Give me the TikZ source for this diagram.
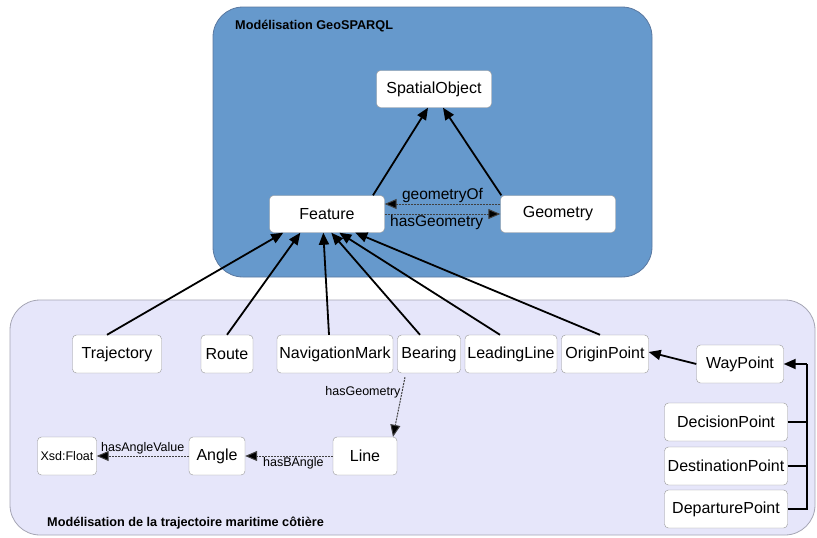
\documentclass[tikz,border=0pt]{standalone}
\usepackage{fontspec}
\setmainfont{Liberation Sans}
\usetikzlibrary{arrows.meta}
\definecolor{topblue}{RGB}{102,153,204}
\definecolor{topedge}{RGB}{90,120,160}
\definecolor{lowfill}{RGB}{230,230,250}
\definecolor{lowedge}{RGB}{165,165,180}
\definecolor{nodeedge}{RGB}{150,150,150}
\tikzset{
  cls/.style={draw=nodeedge, fill=white, rounded corners=4pt, inner sep=0pt,
    minimum height=38pt, font=\fontsize{16}{19}\selectfont},
  isa/.style={line width=1.8pt, -{Triangle[length=12pt,width=10pt]}},
  prop/.style={line width=1pt, draw=black!75, dash pattern=on 2pt off 1pt, -{Triangle[length=12pt,width=10pt,fill=black]}},
  biglab/.style={font=\fontsize{15.5}{18}\selectfont, inner sep=1pt},
  smalllab/.style={font=\fontsize{12.5}{15}\selectfont, inner sep=1pt},
  boxtitle/.style={font=\bfseries\fontsize{12.7}{15}\selectfont, anchor=west, inner sep=0pt}
}
\begin{document}
\begin{tikzpicture}[x=1pt,y=-1pt]
\useasboundingbox (0,0) rectangle (817,538);
% containers
\draw[fill=topblue, draw=topedge, line width=0.8pt, rounded corners=30pt] (213,7) rectangle (652,277);
\draw[fill=lowfill, draw=lowedge, line width=0.8pt, rounded corners=30pt] (10,300) rectangle (815,535);
\node[boxtitle] (t1) at (235,26) {Modélisation GeoSPARQL};
\node[boxtitle] (t2) at (47,523) {Modélisation de la trajectoire maritime côtière};
% top nodes
\node[cls, minimum width=115pt, minimum height=37pt] (so) at (434,89) {SpatialObject};
\node[cls, minimum width=115pt, minimum height=37pt] (feat) at (327,214) {Feature};
\node[cls, minimum width=115pt, minimum height=37pt] (geo) at (558,214) {Geometry};
% lower nodes
\node[cls, minimum width=89pt] (traj) at (117,354) {Trajectory};
\node[cls, minimum width=52pt] (route) at (227,354) {Route};
\node[cls, minimum width=116pt] (nav) at (335,354) {NavigationMark};
\node[cls, minimum width=63pt] (bear) at (429,354) {Bearing};
\node[cls, minimum width=92pt] (lead) at (511,354) {LeadingLine};
\node[cls, minimum width=87pt] (orig) at (605,354) {OriginPoint};
\node[cls, minimum width=87pt] (wp) at (740,364) {WayPoint};
\node[cls, minimum width=123pt] (dec) at (726,422) {DecisionPoint};
\node[cls, minimum width=123pt] (dest) at (726,466) {DestinationPoint};
\node[cls, minimum width=123pt] (dep) at (726,509) {DeparturePoint};
\node[cls, minimum width=64pt] (line) at (365,456) {Line};
\node[cls, minimum width=56pt] (angle) at (217,456) {Angle};
\node[cls, minimum width=59pt, font=\fontsize{12.5}{15}\selectfont] (xsd) at (67,456) {Xsd:Float};
% top arrows
\draw[isa] ([xshift=46pt]feat.north) -- ([xshift=-6pt]so.south);
\draw[isa] ([xshift=1pt]geo.north west) -- ([xshift=9pt]so.south);
\draw[prop] ([yshift=10pt]geo.west) -- node[biglab, above] {geometryOf} ([yshift=10pt]feat.east);
\draw[prop] (feat.east) -- node[biglab, below, pos=0.45] {hasGeometry} (geo.west);
% subclass arrows to Feature
\draw[isa] ([xshift=-10pt]traj.north) -- ([xshift=14pt]feat.south west);
\draw[isa] (route.north) -- ([xshift=31pt]feat.south west);
\draw[isa] ([xshift=-6pt]nav.north) -- ([xshift=54pt]feat.south west);
\draw[isa] ([xshift=-9pt]bear.north) -- ([xshift=62pt]feat.south west);
\draw[isa] ([xshift=-11pt]lead.north) -- ([xshift=70pt]feat.south west);
\draw[isa] ([xshift=-5pt]orig.north) -- ([xshift=86pt]feat.south west);
% lower properties
\draw[prop] ([xshift=-24pt,yshift=-4pt]bear.south) -- node[smalllab, left, pos=0.25] {hasGeometry} ([xshift=28pt]line.north);
\draw[prop] (line.west) -- node[smalllab, below, pos=0.45] {hasBAngle} (angle.east);
\draw[prop] (angle.west) -- node[smalllab, above, pos=0.5] {hasAngleValue} (xsd.east);
% WayPoint
\draw[isa] (wp.west) -- ([yshift=2pt]orig.east);
\coordinate (bus) at (807,364);
\draw[line width=1.8pt] (dep.east) -| (bus);
\draw[line width=1.8pt] (dec.east) -- (dec.east -| bus);
\draw[line width=1.8pt] (dest.east) -- (dest.east -| bus);
\draw[isa] (bus) -- (wp.east);
\end{tikzpicture}
\end{document}
